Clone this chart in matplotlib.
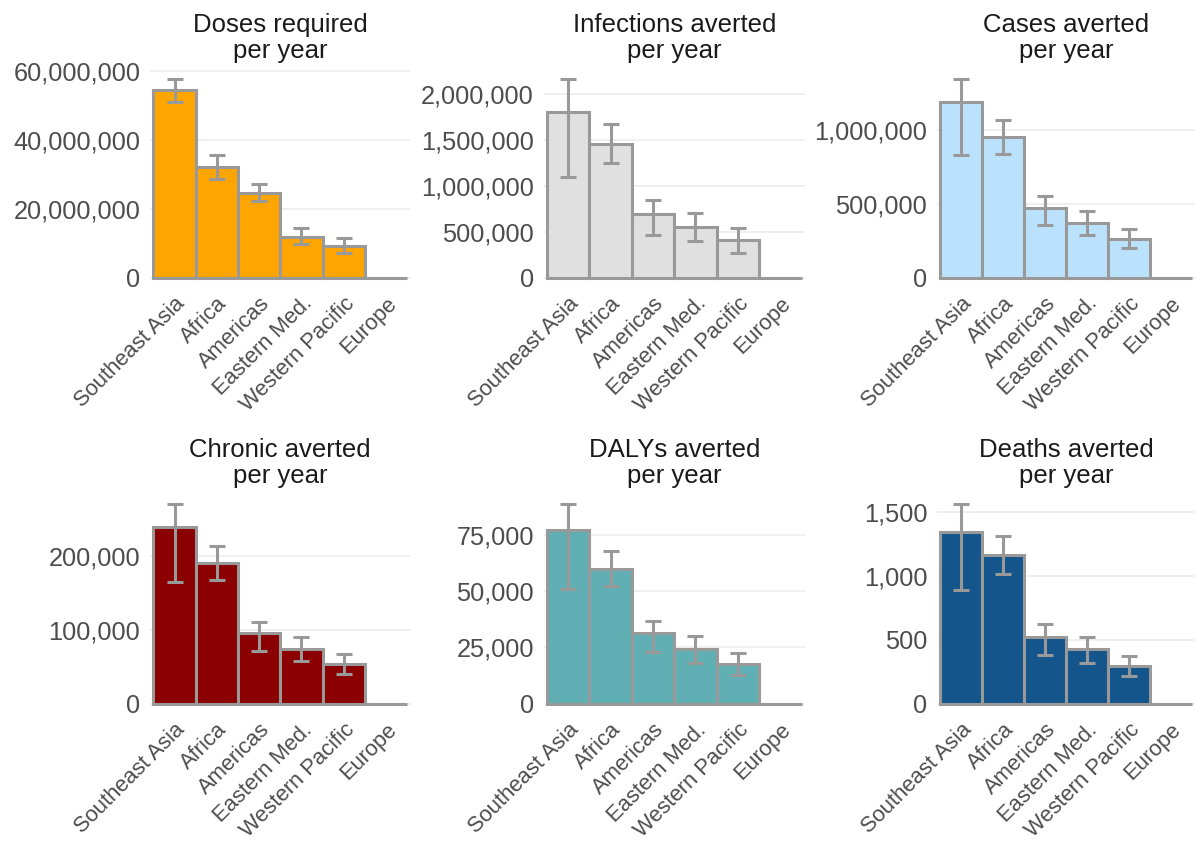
import numpy as np
import matplotlib
matplotlib.use('Agg')
import matplotlib.pyplot as plt
from matplotlib.ticker import FuncFormatter

plt.rcParams['font.family'] = ['Liberation Sans', 'DejaVu Sans']

regions = ['Southeast Asia', 'Africa', 'Americas', 'Eastern Med.', 'Western Pacific', 'Europe']

# values (mean, lower, upper)
doses_mean = [54.4e6, 32.0e6, 24.5e6, 11.9e6, 9.3e6, 0]
doses_lo = [51.0e6, 28.5e6, 22.2e6, 9.7e6, 7.1e6, 0]
doses_hi = [57.7e6, 35.6e6, 27.1e6, 14.3e6, 11.4e6, 0]

infections_mean = [1.81e6, 1.458e6, 0.69e6, 0.55e6, 0.41e6, 0]
infections_lo = [1.10e6, 1.25e6, 0.47e6, 0.40e6, 0.27e6, 0]
infections_hi = [2.17e6, 1.68e6, 0.85e6, 0.71e6, 0.54e6, 0]

cases_mean = [1.19e6, 0.957e6, 0.476e6, 0.372e6, 0.265e6, 0]
cases_lo = [0.835e6, 0.84e6, 0.356e6, 0.288e6, 0.202e6, 0]
cases_hi = [1.35e6, 1.073e6, 0.556e6, 0.454e6, 0.333e6, 0]

chronic_mean = [238e3, 190e3, 95e3, 74.3e3, 53e3, 0]
chronic_lo = [165e3, 166.7e3, 71.6e3, 57.7e3, 40e3, 0]
chronic_hi = [269e3, 213.5e3, 110e3, 90e3, 66.7e3, 0]

dalys_mean = [77.1e3, 59.8e3, 31.5e3, 24.5e3, 17.7e3, 0]
dalys_lo = [50.9e3, 52.1e3, 23.0e3, 18.0e3, 12.7e3, 0]
dalys_hi = [88.4e3, 67.8e3, 36.9e3, 30.0e3, 22.4e3, 0]

deaths_mean = [1343, 1163, 524, 425, 295, 0]
deaths_lo = [887, 1017, 383, 318, 216, 0]
deaths_hi = [1557, 1312, 623, 522, 373, 0]

titles = ['Doses required\nper year', 'Infections averted\nper year', 'Cases averted\nper year',
          'Chronic averted\nper year', 'DALYs averted\nper year', 'Deaths averted\nper year']
colors = ['#FFA500', '#E0E0E0', '#BAE2FC', '#8B0000', '#5FAEB3', '#14568C']
yticks = [[0, 20e6, 40e6, 60e6], [0, 500e3, 1e6, 1.5e6, 2e6], [0, 500e3, 1e6],
          [0, 100e3, 200e3], [0, 25e3, 50e3, 75e3], [0, 500, 1000, 1500]]

panels = [(doses_mean, doses_lo, doses_hi), (infections_mean, infections_lo, infections_hi),
          (cases_mean, cases_lo, cases_hi), (chronic_mean, chronic_lo, chronic_hi),
          (dalys_mean, dalys_lo, dalys_hi), (deaths_mean, deaths_lo, deaths_hi)]

W, H = 1196, 843
fig = plt.figure(figsize=(W / 100, H / 100), dpi=100)

lefts = [150, 543.5, 937]
widths = [260.5, 261.5, 258]
tops = [68.9, 494.5]
heights = [218.7, 219.2]

edge = '#999999'
x = np.arange(len(regions))

for i, (mean, lo, hi) in enumerate(panels):
    r, c = divmod(i, 3)
    ax = fig.add_axes([lefts[c] / W, 1 - (tops[r] + heights[r]) / H, widths[c] / W, heights[r] / H])
    mean = np.array(mean, dtype=float)
    lo = np.array(lo, dtype=float)
    hi = np.array(hi, dtype=float)
    ax.bar(x, mean, width=1.0, color=colors[i], edgecolor=edge, linewidth=2.2, zorder=2)
    m = hi > 0
    ax.errorbar(x[m], mean[m], yerr=[mean[m] - lo[m], hi[m] - mean[m]], fmt='none',
                ecolor=edge, elinewidth=2.2, capsize=5.5, capthick=2.2, zorder=3)
    top = hi.max()
    ax.set_ylim(-0.05 * top, 1.05 * top)
    ax.set_xlim(-0.58, 5.58)
    ax.set_yticks(yticks[i])
    ax.yaxis.set_major_formatter(FuncFormatter(lambda v, p: '{:,.0f}'.format(v)))
    ax.set_xticks(x)
    ax.set_xticklabels(regions)
    ax.tick_params(axis='both', length=0, labelcolor='#4D4D4D')
    ax.tick_params(axis='y', pad=7, labelsize=18.3)
    ax.tick_params(axis='x', pad=4, labelsize=15.8)
    for lab in ax.get_xticklabels():
        lab.set_rotation(45)
        lab.set_ha('right')
        lab.set_va('top')
        lab.set_rotation_mode('anchor')
    ax.grid(axis='y', color='#EBEBEB', linewidth=1.1)
    ax.set_axisbelow(True)
    for s in ax.spines.values():
        s.set_visible(False)
    ax.set_title(titles[i], fontsize=18.5, color='#1A1A1A', pad=8, linespacing=1.1)

fig.savefig('out.png', dpi=100)
